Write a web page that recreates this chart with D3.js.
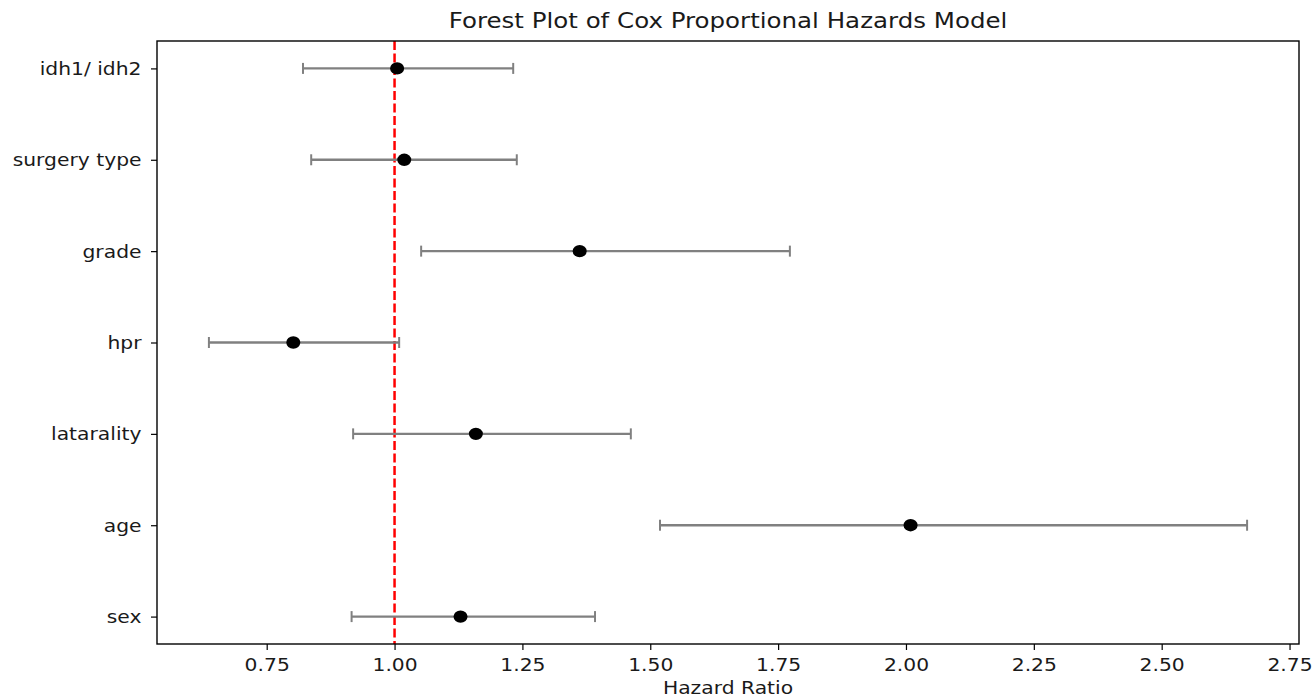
<!DOCTYPE html>
<html>
<head>
<meta charset="utf-8">
<script src="https://cdn.jsdelivr.net/npm/d3@7"></script>
<style>
  body { margin: 0; background: #fff; }
  text { font-family: "DejaVu Sans", sans-serif; fill: #1a1a1a; }
</style>
</head>
<body>
<div id="chart"></div>
<script>
// covariates, top to bottom as shown
const covariates = ["idh1/ idh2", "surgery type", "grade", "hpr", "latarality", "age", "sex"];
const hazardRatio = [1.005, 1.019, 1.362, 0.802, 1.159, 2.009, 1.129];
const ciLower = [0.821, 0.837, 1.052, 0.637, 0.919, 1.519, 0.916];
const ciUpper = [1.232, 1.239, 1.773, 1.009, 1.462, 2.667, 1.392];
const xTicks = [0.75, 1.00, 1.25, 1.50, 1.75, 2.00, 2.25, 2.50, 2.75];

const rows = covariates.map((name, i) => ({ name, hr: hazardRatio[i], lo: ciLower[i], hi: ciUpper[i] }));

const width = 1312, height = 698;
const margin = { top: 41, right: 13, bottom: 54, left: 157 };
const sx = 1.14; // picture is slightly wider than tall

const svg = d3.select("#chart").append("svg").attr("width", width).attr("height", height);

// matplotlib-like 5% padding on the data range
const lo = d3.min(rows, d => d.lo), hi = d3.max(rows, d => d.hi);
const pad = (hi - lo) * 0.05;
const x = d3.scaleLinear().domain([lo - pad, hi + pad]).range([margin.left, width - margin.right]);
const y = d3.scalePoint().domain(covariates).range([margin.top, height - margin.bottom]).padding(0.3);

const plotTop = margin.top, plotBottom = height - margin.bottom;

// x axis
const xAxis = svg.append("g").attr("transform", `translate(0,${plotBottom})`)
  .call(d3.axisBottom(x).tickValues(xTicks).tickFormat(d3.format(".2f")).tickSizeOuter(0).tickSize(6).tickPadding(8));
xAxis.select(".domain").remove();
xAxis.selectAll("line").attr("stroke", "#000").attr("stroke-width", 1.2);
xAxis.selectAll("text").attr("font-size", 17.8).attr("fill", "#1a1a1a")
  .attr("transform", `scale(${sx},1)`);

// y axis
const yAxis = svg.append("g").attr("transform", `translate(${margin.left},0)`)
  .call(d3.axisLeft(y).tickSize(6).tickPadding(9));
yAxis.select(".domain").remove();
yAxis.selectAll("line").attr("stroke", "#000").attr("stroke-width", 1.2);
yAxis.selectAll("text").attr("font-size", 17.8).attr("fill", "#1a1a1a")
  .attr("x", -15.5 / sx).attr("dy", "0.34em")
  .attr("transform", `scale(${sx},1)`);

// reference line at HR = 1
svg.append("line")
  .attr("x1", x(1)).attr("x2", x(1)).attr("y1", plotTop).attr("y2", plotBottom)
  .attr("stroke", "red").attr("stroke-width", 2.5).attr("stroke-dasharray", "9,3.5");

// error bars
const bars = svg.append("g").selectAll("g").data(rows).join("g").attr("stroke", "#808080").attr("stroke-width", 2.4);
bars.append("line").attr("x1", d => x(d.lo)).attr("x2", d => x(d.hi)).attr("y1", d => y(d.name)).attr("y2", d => y(d.name));
bars.append("line").attr("x1", d => x(d.lo)).attr("x2", d => x(d.lo)).attr("y1", d => y(d.name) - 5.5).attr("y2", d => y(d.name) + 5.5).attr("stroke-width", 2);
bars.append("line").attr("x1", d => x(d.hi)).attr("x2", d => x(d.hi)).attr("y1", d => y(d.name) - 5.5).attr("y2", d => y(d.name) + 5.5).attr("stroke-width", 2);

// points
svg.append("g").selectAll("ellipse").data(rows).join("ellipse")
  .attr("cx", d => x(d.hr)).attr("cy", d => y(d.name)).attr("rx", 7).attr("ry", 6.2).attr("fill", "#000");

// frame
svg.append("rect").attr("x", margin.left).attr("y", plotTop)
  .attr("width", width - margin.right - margin.left).attr("height", plotBottom - plotTop)
  .attr("fill", "none").attr("stroke", "#000").attr("stroke-width", 1.4);

// title and label
const cx = (margin.left + width - margin.right) / 2;
svg.append("text").attr("transform", `translate(${cx},28) scale(${sx},1)`).attr("text-anchor", "middle")
  .attr("font-size", 21.5).text("Forest Plot of Cox Proportional Hazards Model");
svg.append("text").attr("transform", `translate(${cx},694) scale(${sx},1)`).attr("text-anchor", "middle")
  .attr("font-size", 17.8).text("Hazard Ratio");
</script>
</body>
</html>
